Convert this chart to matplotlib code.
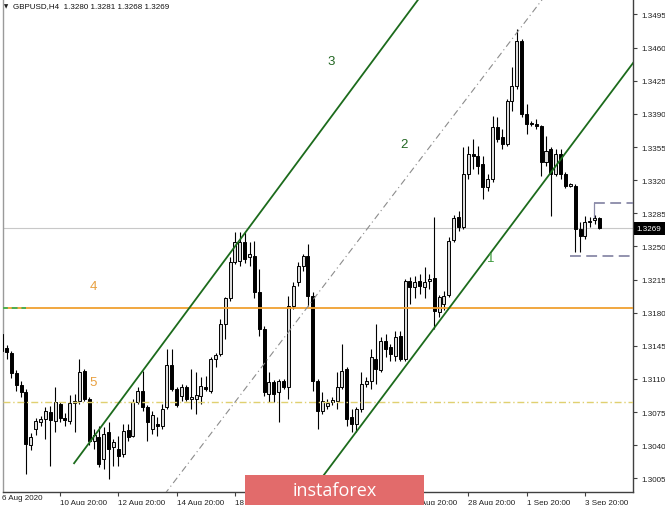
import matplotlib
matplotlib.use("Agg")
import matplotlib.pyplot as plt
from matplotlib.patches import Rectangle

# ---------------- data (GBPUSD, H4) ----------------
bar_index = list(range(-12, 112))
opens = [1.3157, 1.3143, 1.3137, 1.3116, 1.3104, 1.3096, 1.3040, 1.3057, 1.3065, 1.3068,
         1.3075, 1.3066, 1.3084, 1.3069, 1.3066, 1.3085, 1.3087, 1.3118, 1.3089, 1.3044,
         1.3049, 1.3025, 1.3054, 1.3038, 1.3036, 1.3031, 1.3056, 1.3050, 1.3086, 1.3097,
         1.3080, 1.3057, 1.3062, 1.3060, 1.3080, 1.3125, 1.3099, 1.3092, 1.3101, 1.3089,
         1.3089, 1.3092, 1.3101, 1.3097, 1.3131, 1.3136, 1.3168, 1.3195, 1.3234, 1.3235,
         1.3255, 1.3239, 1.3240, 1.3202, 1.3163, 1.3094, 1.3107, 1.3096, 1.3108, 1.3101,
         1.3187, 1.3212, 1.3229, 1.3240, 1.3198, 1.3108, 1.3076, 1.3081, 1.3086, 1.3087,
         1.3102, 1.3121, 1.3070, 1.3062, 1.3078, 1.3105, 1.3108, 1.3131, 1.3119, 1.3150,
         1.3144, 1.3134, 1.3155, 1.3131, 1.3213, 1.3207, 1.3213, 1.3207, 1.3213, 1.3217,
         1.3181, 1.3189, 1.3199, 1.3257, 1.3281, 1.3271, 1.3326, 1.3348, 1.3346, 1.3337,
         1.3313, 1.3321, 1.3376, 1.3366, 1.3358, 1.3404, 1.3419, 1.3467, 1.3390, 1.3380,
         1.3379, 1.3377, 1.3339, 1.3353, 1.3326, 1.3348, 1.3326, 1.3314, 1.3314, 1.3268,
         1.3261, 1.3276, 1.3278, 1.3280]
highs = [1.3166, 1.3146, 1.3140, 1.3119, 1.3108, 1.3099, 1.3053, 1.3069, 1.3071, 1.3080,
         1.3081, 1.3102, 1.3086, 1.3074, 1.3093, 1.3094, 1.3131, 1.3121, 1.3091, 1.3057,
         1.3060, 1.3059, 1.3065, 1.3047, 1.3050, 1.3062, 1.3062, 1.3089, 1.3101, 1.3118,
         1.3083, 1.3076, 1.3070, 1.3084, 1.3142, 1.3142, 1.3101, 1.3105, 1.3104, 1.3121,
         1.3117, 1.3112, 1.3113, 1.3133, 1.3137, 1.3173, 1.3197, 1.3239, 1.3265, 1.3265,
         1.3265, 1.3255, 1.3256, 1.3226, 1.3166, 1.3117, 1.3109, 1.3110, 1.3110, 1.3198,
         1.3212, 1.3234, 1.3242, 1.3253, 1.3202, 1.3110, 1.3096, 1.3089, 1.3091, 1.3117,
         1.3147, 1.3123, 1.3078, 1.3080, 1.3117, 1.3112, 1.3142, 1.3168, 1.3154, 1.3157,
         1.3147, 1.3161, 1.3161, 1.3216, 1.3218, 1.3219, 1.3221, 1.3228, 1.3221, 1.3281,
         1.3199, 1.3203, 1.3260, 1.3283, 1.3287, 1.3355, 1.3356, 1.3364, 1.3356, 1.3346,
         1.3327, 1.3388, 1.3387, 1.3374, 1.3406, 1.3440, 1.3480, 1.3469, 1.3400, 1.3383,
         1.3385, 1.3378, 1.3367, 1.3355, 1.3353, 1.3353, 1.3329, 1.3317, 1.3316, 1.3276,
         1.3282, 1.3281, 1.3283, 1.3281]
lows = [1.3135, 1.3131, 1.3111, 1.3097, 1.3091, 1.3010, 1.3035, 1.3051, 1.3060, 1.3047,
        1.3018, 1.3054, 1.3065, 1.3060, 1.3062, 1.3054, 1.3084, 1.3087, 1.3040, 1.3036,
        1.3017, 1.3015, 1.3004, 1.3018, 1.3018, 1.3028, 1.3044, 1.3049, 1.3084, 1.3076,
        1.3044, 1.3052, 1.3050, 1.3057, 1.3078, 1.3097, 1.3080, 1.3087, 1.3087, 1.3078,
        1.3073, 1.3084, 1.3097, 1.3095, 1.3123, 1.3134, 1.3152, 1.3192, 1.3231, 1.3229,
        1.3233, 1.3229, 1.3195, 1.3155, 1.3092, 1.3086, 1.3086, 1.3065, 1.3099, 1.3089,
        1.3184, 1.3208, 1.3224, 1.3187, 1.3097, 1.3057, 1.3073, 1.3078, 1.3082, 1.3078,
        1.3099, 1.3060, 1.3054, 1.3054, 1.3075, 1.3102, 1.3099, 1.3105, 1.3117, 1.3133,
        1.3129, 1.3129, 1.3129, 1.3129, 1.3189, 1.3195, 1.3200, 1.3195, 1.3205, 1.3163,
        1.3175, 1.3183, 1.3197, 1.3255, 1.3266, 1.3268, 1.3321, 1.3332, 1.3327, 1.3300,
        1.3309, 1.3318, 1.3360, 1.3353, 1.3356, 1.3393, 1.3416, 1.3387, 1.3369, 1.3377,
        1.3374, 1.3324, 1.3335, 1.3282, 1.3324, 1.3321, 1.3312, 1.3313, 1.3244, 1.3244,
        1.3258, 1.3270, 1.3274, 1.3268]
closes = [1.3140, 1.3138, 1.3116, 1.3104, 1.3096, 1.3041, 1.3049, 1.3066, 1.3068, 1.3076,
          1.3067, 1.3086, 1.3069, 1.3067, 1.3085, 1.3087, 1.3117, 1.3089, 1.3044, 1.3051,
          1.3020, 1.3052, 1.3036, 1.3043, 1.3029, 1.3055, 1.3049, 1.3086, 1.3097, 1.3080,
          1.3065, 1.3072, 1.3060, 1.3078, 1.3125, 1.3099, 1.3082, 1.3101, 1.3089, 1.3091,
          1.3093, 1.3103, 1.3099, 1.3131, 1.3135, 1.3168, 1.3195, 1.3234, 1.3255, 1.3255,
          1.3237, 1.3242, 1.3202, 1.3163, 1.3096, 1.3107, 1.3094, 1.3108, 1.3101, 1.3187,
          1.3208, 1.3229, 1.3240, 1.3198, 1.3108, 1.3076, 1.3087, 1.3085, 1.3088, 1.3101,
          1.3118, 1.3068, 1.3062, 1.3078, 1.3105, 1.3108, 1.3133, 1.3121, 1.3150, 1.3142,
          1.3136, 1.3154, 1.3131, 1.3213, 1.3207, 1.3212, 1.3208, 1.3212, 1.3216, 1.3182,
          1.3197, 1.3198, 1.3256, 1.3280, 1.3271, 1.3326, 1.3348, 1.3345, 1.3335, 1.3313,
          1.3321, 1.3376, 1.3364, 1.3358, 1.3404, 1.3419, 1.3467, 1.3390, 1.3379, 1.3379,
          1.3377, 1.3339, 1.3351, 1.3326, 1.3348, 1.3326, 1.3314, 1.3316, 1.3268, 1.3261,
          1.3276, 1.3277, 1.3280, 1.3269]

time_tick_bars = [0, 12, 24, 36, 48, 60, 72, 84, 96, 108]
time_tick_labels = ["10 Aug 20:00", "12 Aug 20:00", "14 Aug 20:00", "18 Aug 20:00",
                    "20 Aug 20:00", "24 Aug 20:00", "26 Aug 20:00", "28 Aug 20:00",
                    "1 Sep 20:00", "3 Sep 20:00"]
first_time_label = "6 Aug 2020"
price_ticks = [1.3005, 1.3040, 1.3075, 1.3110, 1.3145, 1.3180, 1.3215, 1.3250,
               1.3285, 1.3320, 1.3355, 1.3390, 1.3425, 1.3460, 1.3495]

level_4 = 1.3185          # orange horizontal level
level_5 = 1.3086          # yellow dash-dot level
bid_price = 1.3269
box_top = 1.3296
box_bottom = 1.3240

line_3 = [(2.9, 1.3021), (73.3, 1.3508)]     # upper channel line
line_1 = [(52.6, 1.2997), (112.1, 1.3404)]   # lower channel line
line_2 = [(69.96, 1.3314), (95.68, 1.3487)]  # middle dash-dot line

header = "GBPUSD,H4  1.3280 1.3281 1.3268 1.3269"

# ---------------- figure ----------------
W, H = 665, 506
fig = plt.figure(figsize=(W / 100, H / 100), dpi=100)
fig.patch.set_facecolor("white")
ax = fig.add_axes([3 / W, 13 / H, 630 / W, 492 / H])
ax.set_facecolor("white")
ax.set_xlim(-11.73, 117.9)
ax.set_ylim(1.29906, 1.35103)

FONT = "Liberation Sans"
GREEN = "#1c6b1c"

# candles
for i, o, h, l, c in zip(bar_index, opens, highs, lows, closes):
    ax.vlines(i, l, h, color="black", lw=0.8, zorder=2)
    bull = c >= o
    bottom = min(o, c)
    height = max(abs(c - o), 0.00002)
    ax.add_patch(Rectangle((i - 0.31, bottom), 0.62, height,
                           facecolor="#dcdcdc" if bull else "black",
                           edgecolor="black", lw=0.7, zorder=3))

# horizontal lines
ax.axhline(bid_price, color="#c8c8c8", lw=0.8, zorder=1)
ax.axhline(level_4, color="#f0a030", lw=1.3, zorder=4)
ax.axhline(level_5, color="#e0d070", lw=1.0, ls=(0, (5, 2, 1, 2)), zorder=4)
ax.plot([-12, -7], [level_4 + 0.00004] * 2, color="#4caf50", lw=1.4,
        ls=(0, (3, 2)), zorder=5)

# dashed box at the right
ax.plot([109.8, 125], [box_top, box_top], color="#8a8aa8", lw=1.3,
        ls=(0, (6, 3)), zorder=4)
ax.plot([109.8, 109.8], [box_top, 1.3281], color="#8a8aa8", lw=0.9, zorder=4)
ax.plot([104.9, 125], [box_bottom, box_bottom], color="#8a8aa8", lw=1.3,
        ls=(0, (6, 3)), zorder=4)


def extend(p, x_end):
    (x0, y0), (x1, y1) = p
    s = (y1 - y0) / (x1 - x0)
    return y0 + s * (x_end - x0)


ax.plot([line_3[0][0], 125], [line_3[0][1], extend(line_3, 125)],
        color=GREEN, lw=1.3, zorder=5)
ax.plot([line_1[0][0], 125], [line_1[0][1], extend(line_1, 125)],
        color=GREEN, lw=1.3, zorder=5)
ax.plot([15, 125], [extend(line_2, 15), extend(line_2, 125)],
        color="#8c8c8c", lw=0.8, ls=(0, (6, 3, 1, 3)), zorder=4)

# labels on the chart
ax.text(55.8, 1.3446, "3", color="#226622", fontsize=9.5, ha="center", va="center",
        family=FONT, zorder=6)
ax.text(70.8, 1.3358, "2", color="#226622", fontsize=9.5, ha="center", va="center",
        family=FONT, zorder=6)
ax.text(88.7, 1.3238, "1", color="#3c9a3c", fontsize=9.5, ha="center", va="center",
        family=FONT, zorder=6)
ax.text(6.8, 1.3208, "4", color="#e8a040", fontsize=9.5, ha="center", va="center",
        family=FONT, zorder=6)
ax.text(6.8, 1.3107, "5", color="#e8a040", fontsize=9.5, ha="center", va="center",
        family=FONT, zorder=6)

# axes styling
ax.spines["top"].set_visible(False)
ax.spines["left"].set_color("#9a9a9a")
ax.spines["right"].set_color("#404040")
ax.spines["bottom"].set_color("#404040")
for s in ("left", "right", "bottom"):
    ax.spines[s].set_linewidth(1.0)

ax.yaxis.tick_right()
ax.set_yticks(price_ticks)
ax.set_yticklabels([f"{p:.4f}" for p in price_ticks])
ax.tick_params(axis="y", length=3, width=0.8, color="#404040", labelsize=5.8,
               labelcolor="#202020", pad=3)
for t in ax.get_yticklabels():
    t.set_family(FONT)

ax.set_xticks(time_tick_bars)
ax.set_xticklabels(time_tick_labels)
ax.tick_params(axis="x", length=3, width=0.8, color="#404040", labelsize=5.8,
               labelcolor="#202020", pad=2)
for t in ax.get_xticklabels():
    t.set_family(FONT)
    t.set_ha("left")

fig.text(2 / W, 1 - 499 / H, first_time_label, fontsize=5.8, color="#202020",
         family=FONT, va="center", ha="left")

# header
fig.text(4 / W, 1 - 7 / H, "\u25bc", fontsize=4, color="#202020", va="center",
         ha="left", family="DejaVu Sans")
fig.text(13 / W, 1 - 7 / H, header, fontsize=5.8, color="#101010", va="center",
         ha="left", family=FONT)

# bid price tag
fig.add_artist(Rectangle((634 / W, 1 - 236 / H), 31 / W, 13 / H,
                         transform=fig.transFigure, facecolor="black",
                         edgecolor="none", zorder=10))
fig.text(636 / W, 1 - 229.5 / H, f"{bid_price:.4f}", fontsize=5.8, color="white",
         va="center", ha="left", family=FONT, zorder=11)

# watermark
fig.add_artist(Rectangle((245 / W, 0), 179 / W, 30 / H, transform=fig.transFigure,
                         facecolor="#e26b6b", edgecolor="none", zorder=10))
fig.text(334.5 / W, 15 / H, "instaforex", fontsize=13, color="white",
         ha="center", va="center", family="Open Sans", zorder=11)

fig.savefig("out.png", dpi=100, facecolor="white")
